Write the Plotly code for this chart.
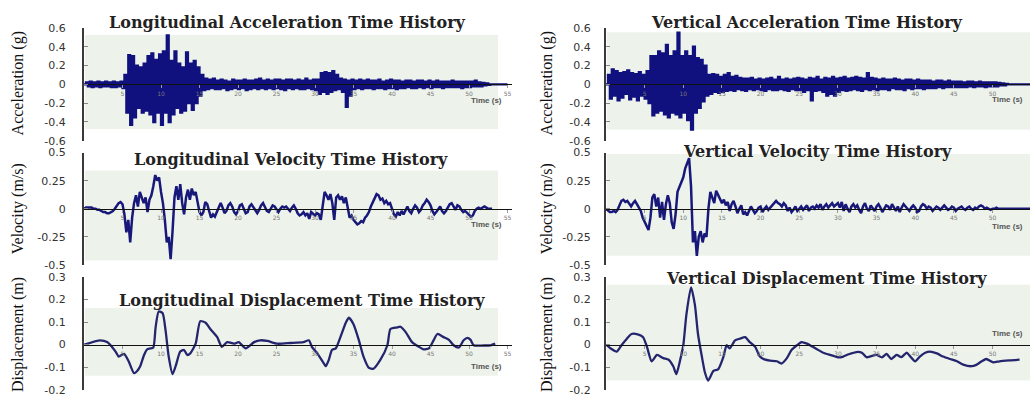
import plotly.graph_objects as go

W, H = 1030, 402
DT = 0.25  # sampling step (s) of the acceleration / velocity records

# ---------------- data ----------------
acc_long = [
    0.00, 0.02, -0.02, 0.03, -0.03, 0.02, -0.02, 0.03, -0.03, 0.02, -0.02, 0.03, -0.02, 0.02, -0.03, 0.03, -0.03, 0.02, -0.02, 0.03,
    -0.04, 0.10, -0.30, 0.31, -0.43, 0.30, -0.35, 0.20, -0.25, 0.18, -0.30, 0.22, -0.28, 0.30, -0.32, 0.33, -0.40, 0.26, -0.30, 0.32,
    -0.43, 0.35, -0.30, 0.52, -0.40, 0.25, -0.32, 0.35, -0.25, 0.22, -0.30, 0.18, -0.28, 0.34, -0.20, 0.22, -0.27, 0.25, -0.20, 0.18,
    -0.12, 0.10, -0.06, 0.06, -0.05, 0.05, -0.04, 0.06, -0.05, 0.04, -0.05, 0.05, -0.04, 0.04, -0.06, 0.03, -0.05, 0.05, -0.04, 0.04,
    -0.05, 0.04, -0.04, 0.05, -0.06, 0.04, -0.05, 0.04, -0.04, 0.05, -0.05, 0.06, -0.04, 0.04, -0.05, 0.05, -0.04, 0.04, -0.05, 0.05,
    -0.04, 0.05, -0.05, 0.04, -0.06, 0.05, -0.04, 0.05, -0.05, 0.04, -0.04, 0.05, -0.05, 0.04, -0.05, 0.06, -0.04, 0.04, -0.05, 0.05,
    -0.06, 0.05, -0.10, 0.12, -0.08, 0.13, -0.10, 0.12, -0.08, 0.14, -0.06, 0.10, -0.05, 0.06, -0.08, 0.05, -0.24, 0.04, -0.12, 0.05,
    -0.05, 0.04, -0.04, 0.05, -0.05, 0.04, -0.04, 0.05, -0.04, 0.04, -0.05, 0.04, -0.04, 0.05, -0.04, 0.03, -0.05, 0.04, -0.04, 0.05,
    -0.04, 0.04, -0.05, 0.04, -0.04, 0.03, -0.04, 0.04, -0.03, 0.04, -0.04, 0.03, -0.04, 0.04, -0.03, 0.04, -0.04, 0.03, -0.03, 0.04,
    -0.04, 0.03, -0.03, 0.04, -0.03, 0.03, -0.04, 0.03, -0.03, 0.03, -0.03, 0.04, -0.03, 0.03, -0.03, 0.03, -0.04, 0.03, -0.03, 0.03,
    -0.03, 0.03, -0.02, 0.04, -0.02, 0.02, -0.02, 0.015, -0.01, 0.01, -0.005, 0.0, 0.0, 0.0, 0.0, 0.0, 0.0, 0.0, 0.0, 0.0, 0.0,
]

acc_vert = [
    0.00, 0.10, -0.15, 0.16, -0.12, 0.14, -0.17, 0.12, -0.14, 0.13, -0.10, 0.15, -0.16, 0.12, -0.13, 0.11, -0.17, 0.13, -0.12, 0.10,
    -0.15, 0.14, -0.20, 0.30, -0.33, 0.30, -0.30, 0.35, -0.28, 0.33, -0.32, 0.42, -0.35, 0.30, -0.30, 0.35, -0.32, 0.55, -0.35, 0.30,
    -0.30, 0.35, -0.38, 0.30, -0.48, 0.40, -0.30, 0.28, -0.25, 0.26, -0.18, 0.20, -0.12, 0.10, -0.10, 0.11, -0.08, 0.10, -0.09, 0.08,
    -0.08, 0.10, -0.07, 0.12, -0.06, 0.08, -0.07, 0.09, -0.05, 0.07, -0.06, 0.06, -0.07, 0.06, -0.05, 0.07, -0.06, 0.05, -0.05, 0.06,
    -0.06, 0.05, -0.07, 0.06, -0.05, 0.07, -0.06, 0.05, -0.06, 0.08, -0.05, 0.05, -0.06, 0.06, -0.07, 0.05, -0.05, 0.06, -0.06, 0.07,
    -0.06, 0.06, -0.08, 0.05, -0.06, 0.07, -0.17, 0.06, -0.07, 0.08, -0.06, 0.05, -0.08, 0.07, -0.12, 0.06, -0.10, 0.08, -0.12, 0.06,
    -0.08, 0.07, -0.06, 0.08, -0.07, 0.06, -0.06, 0.07, -0.05, 0.08, -0.06, 0.07, -0.07, 0.06, -0.05, 0.12, -0.06, 0.07, -0.05, 0.06,
    -0.06, 0.05, -0.05, 0.06, -0.05, 0.05, -0.06, 0.05, -0.04, 0.06, -0.05, 0.05, -0.05, 0.04, -0.06, 0.05, -0.04, 0.05, -0.05, 0.04,
    -0.04, 0.05, -0.04, 0.04, -0.05, 0.04, -0.04, 0.04, -0.04, 0.03, -0.04, 0.04, -0.03, 0.04, -0.04, 0.03, -0.03, 0.04, -0.03, 0.03,
    -0.03, 0.03, -0.03, 0.03, -0.03, 0.02, -0.03, 0.03, -0.02, 0.03, -0.03, 0.02, -0.02, 0.03, -0.02, 0.02, -0.03, 0.02, -0.02, 0.02,
    -0.02, 0.02, -0.02, 0.015, -0.01, 0.01, -0.01, 0.005, 0.0, 0.0, 0.0, 0.0, 0.0, 0.0, 0.0, 0.0, 0.0, 0.0, 0.0, 0.0, 0.0,
]

vel_long = [
    0.00, 0.01, 0.01, 0.01, 0.01, 0.00, 0.00, -0.01, -0.01, -0.02, -0.03, -0.03, -0.04, -0.04, -0.03, -0.02, 0.00, 0.03, 0.05, 0.06,
    0.04, -0.05, -0.21, -0.10, -0.30, -0.08, 0.05, 0.12, 0.02, 0.15, 0.10, 0.05, 0.10, -0.03, 0.08, 0.12, 0.20, 0.30, 0.25, 0.28,
    0.15, 0.05, -0.10, -0.30, -0.25, -0.45, -0.20, 0.10, 0.20, 0.08, 0.22, 0.05, -0.05, 0.10, 0.17, 0.08, 0.18, 0.12, 0.15, 0.05,
    -0.03, -0.06, -0.03, 0.06, 0.04, -0.02, -0.08, -0.05, -0.07, -0.03, 0.02, 0.05, 0.01, -0.04, -0.02, 0.03, 0.05, 0.02, -0.03, -0.05,
    -0.02, 0.03, 0.04, 0.00, -0.04, -0.03, 0.02, 0.04, 0.01, -0.02, -0.04, -0.01, 0.03, 0.05, 0.02, -0.02, -0.03, 0.00, 0.03, 0.02,
    -0.01, -0.03, 0.00, 0.02, 0.01, 0.02, 0.00, -0.02, 0.01, 0.03, 0.00, -0.04, -0.06, -0.05, -0.03, -0.06, -0.04, -0.09, -0.03, -0.05,
    -0.06, -0.04, -0.05, -0.10, 0.05, 0.15, 0.12, 0.08, 0.13, 0.05, -0.10, 0.10, 0.12, 0.08, 0.11, 0.05, 0.10, 0.02, -0.08, -0.06,
    -0.10, -0.12, -0.14, -0.13, -0.11, -0.12, -0.08, -0.06, -0.03, 0.02, 0.06, 0.10, 0.13, 0.12, 0.08, 0.09, 0.05, 0.07, 0.04, 0.05,
    0.00, -0.05, -0.07, -0.03, -0.06, -0.02, -0.05, -0.01, 0.02, -0.02, -0.04, 0.00, 0.03, 0.01, -0.03, -0.01, 0.03, 0.05, 0.08, 0.06,
    0.03, -0.02, -0.05, -0.03, 0.00, 0.02, -0.02, -0.04, -0.02, 0.01, 0.04, 0.05, 0.02, -0.01, 0.03, 0.02, -0.01, -0.03, -0.02, -0.04,
    -0.06, -0.07, -0.06, -0.02, 0.00, 0.01, 0.00, 0.01, 0.02, 0.01, 0.00, 0.00, 0.00,
]

vel_vert = [
    0.00, -0.02, -0.03, -0.03, -0.02, -0.03, -0.01, 0.03, 0.07, 0.08, 0.06, 0.07, 0.04, 0.02, 0.05, 0.07, 0.04, 0.01, -0.02, -0.08,
    -0.12, -0.16, -0.19, -0.08, 0.10, 0.13, 0.02, 0.10, -0.08, 0.06, -0.10, 0.04, 0.12, 0.05, -0.12, -0.18, -0.05, 0.15, 0.20, 0.25,
    0.28, 0.36, 0.40, 0.45, 0.20, -0.30, -0.20, -0.42, -0.25, -0.20, -0.30, -0.22, -0.25, 0.00, 0.15, 0.10, 0.05, 0.16, 0.12, 0.08,
    0.05, 0.08, 0.03, 0.06, -0.02, 0.04, 0.07, 0.02, -0.04, 0.00, 0.03, -0.05, -0.03, -0.06, -0.02, 0.02, -0.01, -0.04, -0.02, 0.01,
    0.02, -0.03, 0.00, 0.02, -0.01, 0.01, 0.04, 0.06, 0.07, 0.05, 0.04, 0.02, 0.05, 0.03, -0.02, 0.01, -0.03, -0.01, 0.02, -0.02,
    0.00, 0.02, -0.01, 0.01, 0.03, -0.02, 0.01, 0.02, 0.00, 0.03, 0.01, 0.04, -0.01, 0.02, 0.04, 0.01, 0.03, 0.05, 0.02, 0.04,
    0.05, 0.01, 0.06, -0.02, 0.04, 0.00, -0.03, 0.02, 0.04, 0.01, 0.03, -0.01, -0.04, 0.02, 0.05, 0.00, -0.02, 0.03, 0.01, -0.02,
    0.02, 0.04, 0.01, -0.03, 0.00, 0.03, 0.02, -0.01, 0.04, 0.01, -0.02, 0.02, -0.03, 0.01, 0.04, 0.02, 0.00, -0.02, 0.01, 0.03,
    0.01, -0.03, -0.02, 0.02, 0.04, 0.03, 0.00, 0.02, 0.01, -0.02, 0.00, 0.02, 0.01, -0.01, 0.01, 0.03, 0.01, -0.01, 0.00, 0.02,
    0.01, -0.02, 0.00, 0.01, 0.02, 0.00, -0.01, 0.01, 0.02, 0.00, -0.01, 0.01, 0.00, 0.02, 0.03, 0.02, 0.00, 0.01, 0.00, -0.01,
    0.00, 0.00, 0.01, 0.00, 0.00, 0.00, 0.00, 0.00, 0.00, 0.00, 0.00, 0.00, 0.00, 0.00, 0.00, 0.00, 0.00, 0.00, 0.00, 0.00, 0.00,
]

disp_long_t = [0.0, 2.1, 3.0, 4.1, 4.5, 5.2, 5.8, 6.5, 6.9, 7.3, 7.8, 8.2, 8.6, 9.0, 9.3, 9.7, 10.2, 10.6, 11.0, 11.5,
               11.9, 12.5, 13.0, 13.4, 13.8, 14.5, 15.1, 15.8, 16.4, 17.3, 17.9, 18.6, 19.5, 20.1, 21.0, 22.1, 22.9, 23.8, 25.1, 26.8,
               28.5, 29.2, 29.6, 30.3, 31.1, 31.4, 31.8, 32.2, 32.7, 33.3, 34.0, 34.4, 35.0, 35.7, 36.3, 37.0, 37.6, 38.5, 39.4, 39.8,
               40.7, 41.1, 41.8, 42.6, 43.5, 44.1, 44.8, 45.4, 45.9, 46.7, 47.4, 48.0, 48.7, 49.3, 49.8, 50.2, 50.6, 51.9, 52.8, 53.4]
disp_long = [0.0, 0.019, 0.011, -0.031, -0.053, -0.041, -0.074, -0.127, -0.117, -0.096, -0.046, -0.021, -0.017, -0.013, 0.076, 0.147, 0.14, 0.061, -0.053, -0.131,
             -0.096, -0.031, -0.024, -0.046, -0.039, 0.004, 0.104, 0.097, 0.069, 0.033, -0.01, 0.011, 0.004, 0.011, -0.017, 0.011, 0.019, 0.016, 0.004, 0.007,
             0.011, 0.019, -0.01, -0.039, -0.081, -0.096, -0.067, -0.024, -0.017, 0.033, 0.097, 0.119, 0.09, 0.019, -0.053, -0.103, -0.107, -0.067, -0.003, 0.069,
             0.076, 0.079, 0.054, 0.011, -0.01, -0.021, -0.017, 0.019, 0.047, 0.033, 0.021, -0.003, -0.013, 0.019, 0.03, 0.021, -0.003, -0.004, -0.003, 0.004]

disp_vert_t = [0.0, 0.6, 1.4, 2.0, 2.7, 3.3, 4.2, 4.8, 5.3, 5.9, 6.6, 7.4, 8.1, 8.7, 9.1, 9.6, 10.0, 10.4, 11.0, 11.5,
               11.9, 12.4, 12.8, 13.2, 13.9, 14.5, 15.2, 15.6, 16.0, 16.7, 17.3, 18.0, 18.6, 19.3, 19.9, 20.6, 21.2, 22.1, 22.7, 23.4,
               24.0, 24.7, 25.3, 26.0, 26.6, 27.3, 28.1, 29.0, 30.1, 30.7, 31.4, 32.4, 33.1, 33.7, 34.4, 35.0, 35.7, 36.3, 36.9, 37.6,
               38.2, 38.9, 39.3, 40.0, 40.6, 41.3, 41.9, 42.8, 43.6, 44.5, 45.4, 46.2, 47.3, 47.9, 48.6, 49.2, 50.1, 50.9, 52.2, 53.5]
disp_vert = [0.0, -0.017, -0.031, -0.003, 0.026, 0.047, 0.044, 0.033, -0.01, -0.074, -0.046, -0.06, -0.067, -0.096, -0.131, -0.067, -0.003, 0.133, 0.254, 0.176,
             0.047, -0.053, -0.124, -0.16, -0.117, -0.11, -0.053, -0.003, -0.017, 0.019, 0.026, 0.033, 0.011, -0.01, -0.053, -0.067, -0.071, -0.074, -0.084, -0.06,
             -0.024, -0.003, 0.011, 0.004, -0.007, -0.021, -0.036, -0.046, -0.057, -0.053, -0.043, -0.033, -0.036, -0.056, -0.05, -0.046, -0.057, -0.041, -0.064, -0.046,
             -0.056, -0.036, -0.05, -0.074, -0.053, -0.036, -0.031, -0.039, -0.053, -0.064, -0.074, -0.089, -0.096, -0.09, -0.074, -0.064, -0.079, -0.074, -0.07, -0.067]

titles = [
    "Longitudinal Acceleration Time History", "Vertical Acceleration Time History",
    "Longitudinal Velocity Time History", "Vertical Velocity Time History",
    "Longitudinal Displacement Time History", "Vertical Displacement Time History",
]
ylabels = ["Acceleration (g)", "Velocity (m/s)", "Displacement (m)"]
yranges = [(-0.6, 0.6), (-0.5, 0.5), (-0.2, 0.3)]
ytickvals = [[-0.6, -0.4, -0.2, 0, 0.2, 0.4, 0.6], [-0.5, -0.25, 0, 0.25, 0.5], [-0.2, -0.1, 0, 0.1, 0.2, 0.3]]
yticktext = [["-0.6", "-0.4", "-0.2", "0", "0.2", "0.4", "0.6"], ["-0.5", "-0.25", "0", "0.25", "0.5"],
             ["-0.2", "-0.1", "0", "0.1", "0.2", "0.3"]]
xtickvals = [5, 10, 15, 20, 25, 30, 35, 40, 45, 50, 55]
xlabel = "Time (s)"

# ---------------- layout geometry (pixels) ----------------
row_px = [(22.7, 139.3), (151.5, 267.5), (280, 396.5)]   # pixel of ymax, ymin
col_px = [(84, 511.5), (606, 1030)]                       # pixel of t=0, right end
px_per_s = [7.7, 7.73]
shade_px = [  # x0, x1, y0, y1 for the light background boxes
    (85, 498, 30, 127), (607, 1030, 27, 128),
    (85, 498, 170, 263), (607, 1030, 153, 258),
    (85, 498, 312, 382), (607, 1030, 288, 387),
]
title_px = [(287, 17), (807, 17), (291, 159), (817, 150), (302, 304), (826, 282)]
ylabel_x = [18, 547]
ylabel_y = [80, 210, 340]
time_px = [(504, 98, "right"), (990, 97, "left"), (504, 226, "right"), (990, 228, "left"),
           (504, 373, "right"), (990, 338, "left")]

def fx(p):
    return p / W

def fy(p):
    return 1 - p / H

# (time, values, line width, colour, line shape)
series = [
    ([i * DT for i in range(len(acc_long))], acc_long, 2.3, "#10107e", "hv"),
    ([i * DT for i in range(len(acc_vert))], acc_vert, 2.3, "#10107e", "hv"),
    ([i * DT for i in range(len(vel_long))], vel_long, 2.5, "#18187a", "linear"),
    ([i * DT for i in range(len(vel_vert))], vel_vert, 2.5, "#18187a", "linear"),
    (disp_long_t, disp_long, 2.3, "#25256e", "spline"),
    (disp_vert_t, disp_vert, 2.3, "#25256e", "spline"),
]

fig = go.Figure()
layout = dict(
    width=W, height=H, margin=dict(l=0, r=0, t=0, b=0),
    paper_bgcolor="white", plot_bgcolor="rgba(0,0,0,0)", showlegend=False,
    shapes=[], annotations=[],
)

for r in range(3):
    for c in range(2):
        k = r * 2 + c
        idx = k + 1
        xs = "" if idx == 1 else str(idx)
        top, bot = row_px[r]
        ymin, ymax = yranges[r]
        zero_px = top + (ymax - 0) / (ymax - ymin) * (bot - top)
        x0p, x1p = col_px[c]
        xmax = (x1p - x0p) / px_per_s[c]

        layout["xaxis" + xs] = dict(
            domain=[fx(x0p), fx(x1p)], range=[0, xmax], anchor="free", position=fy(zero_px),
            showline=True, linecolor="#111", linewidth=1.2, showgrid=False, zeroline=False,
            ticks="outside", ticklen=3, tickwidth=1, tickcolor="#999",
            tickvals=xtickvals, tickfont=dict(family="DejaVu Sans", size=6, color="#777"),
        )
        layout["yaxis" + xs] = dict(
            domain=[fy(bot), fy(top)], range=[ymin, ymax], anchor="x" + xs,
            showline=True, linecolor="#3a3a3a", linewidth=2, showgrid=False, zeroline=False,
            ticks="inside", ticklen=4, tickwidth=1, tickcolor="#888",
            tickvals=ytickvals[r], ticktext=yticktext[r],
            tickfont=dict(family="DejaVu Sans", size=11, color="#333"),
            ticklabelstandoff=14 if c == 0 else 11,
        )

        sx0, sx1, sy0, sy1 = shade_px[k]
        layout["shapes"].append(dict(
            type="rect", xref="paper", yref="paper", x0=fx(sx0), x1=fx(sx1), y0=fy(sy1), y1=fy(sy0),
            fillcolor="#edf3eb", line=dict(width=0), layer="below",
        ))

        tx, ty = title_px[k]
        layout["annotations"].append(dict(
            text="<b>" + titles[k] + "</b>", xref="paper", yref="paper", x=fx(tx), y=fy(ty),
            xanchor="center", yanchor="middle", showarrow=False,
            font=dict(family="DejaVu Serif", size=16, color="#222"),
        ))
        layout["annotations"].append(dict(
            text=ylabels[r], xref="paper", yref="paper", x=fx(ylabel_x[c]), y=fy(ylabel_y[r]),
            xanchor="center", yanchor="middle", textangle=-90, showarrow=False,
            font=dict(family="Liberation Serif", size=16, color="#111"),
        ))
        tpx, tpy, tanc = time_px[k]
        layout["annotations"].append(dict(
            text="<b>" + xlabel + "</b>", xref="paper", yref="paper", x=fx(tpx), y=fy(tpy),
            xanchor=tanc, yanchor="middle", showarrow=False,
            font=dict(family="Liberation Sans", size=8, color="#555"),
        ))

        tt, vv, lw, col, shape = series[k]
        fig.add_trace(go.Scatter(
            x=tt, y=vv, mode="lines", xaxis="x" + xs, yaxis="y" + xs,
            line=dict(color=col, width=lw, shape=shape, smoothing=0.6 if shape == "spline" else None),
            hoverinfo="skip",
        ))

fig.update_layout(**layout)
fig.write_html("out.html")
